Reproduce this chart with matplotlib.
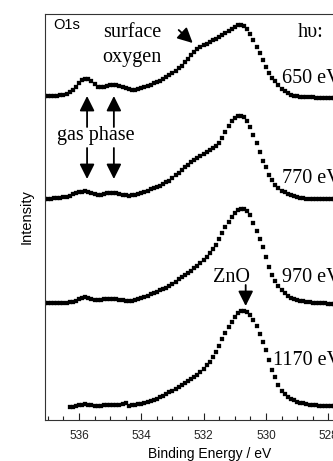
import matplotlib
matplotlib.use('Agg')
import matplotlib.pyplot as plt
import numpy as np

# binding energy grid of the scans (0.1 eV step)
energy = np.round(np.arange(537.1, 527.75, -0.1), 1)

# intensities (arb. units, already stacked)
i650 = [324, 324, 324, 324, 324, 325, 325, 326, 327.5, 329.5,
        333, 336.5, 339.5, 341, 341, 338.5, 335.5, 333, 332.5, 333,
        334, 334.5, 335, 334.5, 333.5, 332.5, 331.5, 330.5, 330, 330,
        331, 332, 333, 334, 335, 336.5, 338, 339, 341, 343,
        344.5, 346.5, 349, 351.5, 354, 357.5, 361, 365, 368, 370.5,
        373, 374.5, 376, 378, 379.5, 381, 382.5, 384.5, 387, 389,
        391, 393, 395, 394.5, 393.5, 390.5, 386, 380, 373, 367,
        360, 353, 346.5, 341.5, 338.5, 334.5, 331, 328.5, 326.5, 325,
        324, 323.5, 323, 323, 322.5, 322.5, 322.5, 322, 322, 322,
        322, 322, 322, 322]
i770 = [221, 221, 221, 221.5, 221.5, 222, 222.5, 223, 224, 225.5,
        226.5, 227.5, 228, 228.5, 228, 226.5, 225.5, 224.5, 225, 226,
        226.5, 227, 227, 226.5, 226, 225, 224.5, 224, 224.5, 225,
        226, 227, 228, 229, 230.5, 231.5, 233, 234, 235.5, 237.5,
        239, 241.5, 244.5, 247, 249.5, 252.5, 255, 257.5, 259.5, 261.5,
        263.5, 265.5, 267.5, 269.5, 271.5, 274, 277, 282, 288, 294,
        298.5, 301.5, 303.5, 303.5, 302.5, 299, 292.5, 285, 277, 267.5,
        258.5, 252.5, 245, 240, 235, 232, 229, 227.5, 226, 224.5,
        223.5, 222.5, 222, 221.5, 221, 221, 221, 220.5, 220.5, 220.5,
        220.5, 220.5, 220.5, 220.5]
i970 = [117, 117, 117, 117, 117, 117, 117.5, 117.5, 118, 118.5,
        119.5, 121, 122, 123, 122, 121, 120, 120, 120, 121,
        121, 121.5, 121, 121, 120.5, 120, 119.5, 119.5, 119.5, 120,
        121, 122, 123.5, 124.5, 126, 127, 128.5, 130, 131, 132.5,
        134, 136, 138.5, 141, 143, 145.5, 147.5, 149.5, 152, 154.5,
        157, 160, 163, 166.5, 170.5, 175, 180.5, 186.5, 192.5, 198,
        202.5, 207, 209.5, 210.5, 210.5, 208.5, 204.5, 196.5, 189, 181,
        172.5, 163, 153.5, 145.5, 139, 134, 130, 127, 124.5, 122.5,
        121, 120, 119.5, 119, 118.5, 118, 117.5, 117.5, 117, 117,
        117, 116.5, 116.5, 116.5]
# the 1170 eV scan starts at 536.3 eV
i1170 = [13, 13.5, 14, 15, 15.5, 16, 15.5, 15, 14.5, 14.5,
         14.5, 15, 15, 15, 15, 15, 15, 16.5, 17, 14.5,
         15, 15.5, 16, 16.5, 17, 18, 19, 20, 21.5, 23,
         24.5, 26, 28, 29.5, 31.5, 33, 35.5, 37.5, 39.5, 41,
         43, 45, 48.5, 51.5, 55, 58.5, 63, 68, 74.5, 81,
         87.5, 93.5, 98.5, 103.5, 107, 109.5, 109.5, 108, 105, 100,
         94, 86, 78, 70.5, 60, 50, 43, 35, 29.5, 26,
         23.5, 21.5, 20, 18.5, 17.5, 17, 16, 15.5, 15.5, 15,
         14.5, 14.5, 14, 14, 14.5, 14.5]

spectra = [i650, i770, i970, i1170]
photon_labels = ['650 eV', '770 eV', '970 eV', '1170 eV']
label_pos = [(529.49, 337), (529.49, 237), (529.49, 138), (529.77, 55)]

plt.rcParams['font.family'] = ['Liberation Sans', 'DejaVu Sans']
serif = ['Liberation Serif', 'DejaVu Serif']

fig = plt.figure(figsize=(3.33, 4.61), dpi=100)
ax = fig.add_axes([45 / 333, 41 / 461, 330 / 333, 406 / 461])

for y in spectra:
    e = energy[len(energy) - len(y):]
    ax.plot(e, y, ls='none', marker='s', ms=2.3, mew=0.2, color='k')

ax.set_xlim(537.09, 526.5)
ax.set_ylim(0, 406)
ax.set_xticks([536, 534, 532, 530, 528])
ax.set_xticks(np.arange(537, 526.4, -0.5), minor=True)
ax.set_yticks([])
ax.tick_params(axis='x', which='both', direction='in', labelsize=8.5, colors='#222222', pad=7)
ax.tick_params(axis='x', which='major', length=5, width=0.8)
ax.tick_params(axis='x', which='minor', length=3, width=0.8)
for s in ax.spines.values():
    s.set_linewidth(0.8)
    s.set_color('#333333')
ax.set_xlabel('Binding Energy / eV', fontsize=10, labelpad=4)
ax.set_ylabel('Intensity', fontsize=10.5, labelpad=8)

ax.text(536.83, 395, 'O1s', fontsize=10.5, va='center', ha='left')
ax.text(534.30, 383, 'surface', family=serif, fontsize=14.5, ha='center', va='baseline')
ax.text(534.30, 358, 'oxygen', family=serif, fontsize=14.5, ha='center', va='baseline')
ax.text(528.98, 383, 'hυ:', family=serif, fontsize=14.5, ha='left', va='baseline')
ax.text(535.45, 280, 'gas phase', family=serif, fontsize=14.5, ha='center', va='baseline')
ax.text(531.1, 138, 'ZnO', family=serif, fontsize=14.5, ha='center', va='baseline')
# photon energies run off the right edge, as in the original
for lab, (x, y) in zip(photon_labels, label_pos):
    ax.text(x, y, lab, family=serif, fontsize=14.5, ha='left', va='baseline')

arrow = dict(arrowstyle='-|>,head_length=0.9,head_width=0.45', lw=1.3, color='k',
             shrinkA=0, shrinkB=0, mutation_scale=10)
for x in [535.74, 534.88]:
    ax.annotate('', xy=(x, 324), xytext=(x, 293), arrowprops=arrow)
    ax.annotate('', xy=(x, 241), xytext=(x, 272), arrowprops=arrow)
ax.annotate('', xy=(532.35, 377), xytext=(532.80, 390), arrowprops=arrow)
ax.annotate('', xy=(530.65, 114), xytext=(530.65, 135), arrowprops=arrow)

fig.savefig('out.png', dpi=100)
